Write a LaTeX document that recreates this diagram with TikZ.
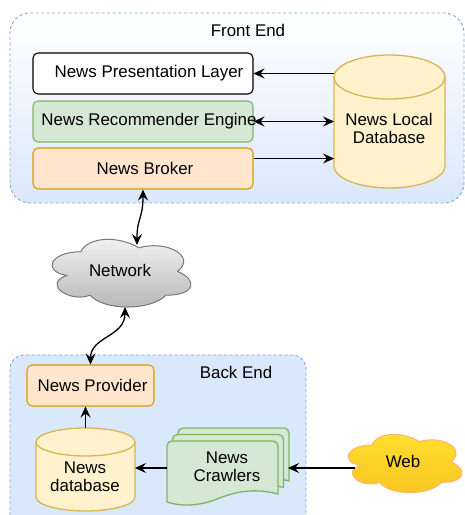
\documentclass[tikz,border=0pt]{standalone}
\usepackage{fontspec}
\setmainfont{Liberation Sans}
\usetikzlibrary{arrows.meta,calc}
\definecolor{feblue}{HTML}{DAE8FC}
\definecolor{edgeblue}{HTML}{7EA6D8}
\definecolor{greenfill}{HTML}{D5E8D4}
\definecolor{greenline}{HTML}{82B366}
\definecolor{orangefill}{HTML}{FFE6CC}
\definecolor{orangeline}{HTML}{D79B00}
\definecolor{yellowfill}{HTML}{FFF2CC}
\definecolor{yellowline}{HTML}{D6B656}
\definecolor{webtop}{HTML}{FFDF30}
\definecolor{webbot}{HTML}{F8C520}
\definecolor{webline}{HTML}{FFB570}
\definecolor{nettop}{HTML}{F4F4F4}
\definecolor{netbot}{HTML}{B5B5B5}
\definecolor{netline}{HTML}{777777}
\newcommand\myfs{\fontsize{16.9}{18.5}\selectfont}
\newcommand\cloudpath{(0.25,0.25) .. controls (0.05,0.25) and (0,0.5) .. (0.16,0.55) .. controls (0,0.66) and (0.18,0.9) .. (0.31,0.8) .. controls (0.4,1) and (0.7,1) .. (0.8,0.8) .. controls (1,0.8) and (1,0.6) .. (0.875,0.5) .. controls (1,0.3) and (0.8,0.1) .. (0.625,0.2) .. controls (0.5,0.05) and (0.3,0.05) .. (0.25,0.25) -- cycle}
\newcommand\crawldoc[2]{%
  \draw[docshape] (#1,{#2-61}) [rounded corners=5pt] -- (#1,#2) -- ({#1+111},#2) [sharp corners] -- ({#1+111},{#2-53})
    .. controls ({#1+85},{#2-46}) and ({#1+65},{#2-52}) .. ({#1+50},{#2-58})
    .. controls ({#1+30},{#2-66}) and ({#1+12},{#2-65}) .. (#1,{#2-61}) -- cycle;}
\newcommand\shiftedtext[2]{\makebox[0pt]{\hspace*{#1}#2}}
\tikzset{
  box/.style={rounded corners=5pt, line width=1.1pt, minimum width=220pt, minimum height=41pt, inner sep=0pt, font=\myfs},
  lbl/.style={inner sep=0pt, align=center, font=\myfs},
  hold/.style={inner sep=0pt, outer sep=0pt},
  cyl/.style={fill=yellowfill, draw=yellowline, line width=1.3pt},
  cylline/.style={draw=yellowline, line width=1.3pt},
  docshape/.style={fill=greenfill, draw=greenline, line width=1.3pt},
  container/.style={draw=edgeblue, line width=0.9pt, dash pattern=on 3pt off 2.5pt},
  tip/.tip={Stealth[length=11pt,width=10pt,inset=4pt]},
  arr/.style={line width=1.3pt, -tip},
  darr/.style={line width=1.3pt, tip-tip},
}
\begin{document}
\begin{tikzpicture}[x=1pt,y=1pt]
\useasboundingbox (0,0) rectangle (465,515);
\fill[white] (0,0) rectangle (465,515);

% Front End container
\draw[container, rounded corners=20pt, top color=white, bottom color=feblue] (10,312) rectangle (464,502);
\node[lbl] (fetitle) at (248,485) {Front End};

\node[box, draw=black, fill=white] (pres) at (143,441.5) {\shiftedtext{12pt}{News Presentation Layer}};
\node[box, draw=greenline, fill=greenfill] (rec) at (143,393.5) {\shiftedtext{12pt}{News Recommender Engine}};
\node[box, draw=orangeline, fill=orangefill] (brk) at (143,346.5) {\shiftedtext{4pt}{News Broker}};

% Local database cylinder
\node[hold, minimum width=111pt, minimum height=133pt] (ldb) at (389.5,393.5) {};
\draw[cyl] (334,349) arc[start angle=180,end angle=360,x radius=55.5pt,y radius=22pt] -- (445,438) arc[start angle=0,end angle=180,x radius=55.5pt,y radius=22pt] -- cycle;
\draw[cylline] (334,438) arc[start angle=180,end angle=360,x radius=55.5pt,y radius=22pt];
\node[lbl] (ldbt) at (389,386.5) {News Local\\Database};

\draw[arr] (ldb.west |- pres.east) -- (pres.east);
\draw[darr] (rec.east) -- (rec.east -| ldb.west);
\path ([yshift=10pt]brk.east) coordinate (brkout);
\draw[arr] (brkout) -- (brkout -| ldb.west);

% Network cloud
\node[hold, minimum width=144pt, minimum height=67pt] (net) at (120,241.5) {};
\begin{scope}[shift={(42,283)}, x=155pt, y={(0pt,-79pt)}]
\draw[line width=1pt, draw=netline, top color=nettop, bottom color=netbot] \cloudpath;
\end{scope}
\node[lbl] (nett) at (120,245) {Network};

% Back End container
\draw[container, rounded corners=14pt, fill=feblue] (10,-20) rectangle (306,160);
\node[lbl] (betitle) at (236,143) {Back End};

\node[box, minimum width=127pt, draw=orangeline, fill=orangefill] (prov) at (90.5,129.5) {\shiftedtext{4pt}{News Provider}};

% News database cylinder
\node[hold, minimum width=99pt, minimum height=83pt] (db) at (85.5,45.5) {};
\draw[cyl] (36,18) arc[start angle=180,end angle=360,x radius=49.5pt,y radius=14pt] -- (135,73) arc[start angle=0,end angle=180,x radius=49.5pt,y radius=14pt] -- cycle;
\draw[cylline] (36,73) arc[start angle=180,end angle=360,x radius=49.5pt,y radius=14pt];
\node[lbl] (dbt) at (85,38) {News\\database};

% Crawlers
\node[hold, minimum width=121pt, minimum height=70pt] (crawl) at (227.5,47) {};
\crawldoc{178}{87}
\crawldoc{172.5}{80.5}
\crawldoc{167}{74}
\node[lbl] (crawlt) at (227,48) {News\\Crawlers};

% Web cloud
\node[hold, minimum width=118pt, minimum height=58pt] (web) at (404,51) {};
\begin{scope}[shift={(340,87)}, x=127pt, y={(0pt,-68pt)}]
\draw[line width=1pt, draw=webline, top color=webtop, bottom color=webbot] \cloudpath;
\end{scope}
\node[lbl] (webt) at (403,54) {Web};

% Connectors
\draw[darr] (brk.south) .. controls +(0,-30) and +(0,28) .. ([shift={(17pt,-5pt)}]net.north);
\draw[darr] ([xshift=5pt]net.south) .. controls +(0,-30) and +(0,28) .. (prov.north);
\draw[arr] (db.north) -- (db.north |- prov.south);
\draw[arr] (crawl.west) -- (crawl.west -| db.east);
\path (web.west |- crawl.east) ++(10,0) coordinate (webin);
\draw[arr] (webin) -- (crawl.east);
\end{tikzpicture}
\end{document}
